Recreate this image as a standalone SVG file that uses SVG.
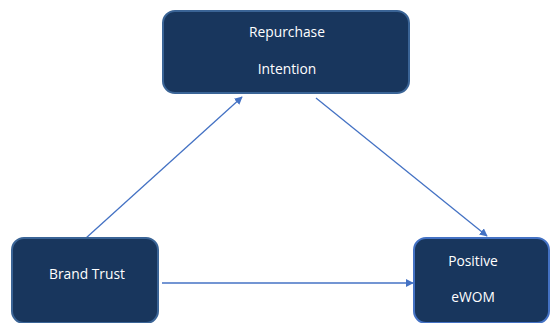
<svg xmlns="http://www.w3.org/2000/svg" width="551" height="323" viewBox="0 0 551 323">
<defs>
<style>
.box{fill:#18365d;stroke:#3a6496;stroke-width:2}
.lbl{fill:#ffffff;font-family:"Open Sans","Liberation Sans",sans-serif;font-size:13.8px;text-anchor:middle}
.con{stroke:#4472c4;stroke-width:1.3;fill:none;marker-end:url(#ah)}
</style>
<marker id="ah" viewBox="0 0 10 10" refX="9" refY="5" markerWidth="8" markerHeight="8" markerUnits="userSpaceOnUse" orient="auto">
<path d="M0,0 L10,5 L0,10 z" fill="#4472c4"/>
</marker>
</defs>
<rect width="551" height="323" fill="#ffffff"/>
<g id="connectors">
<line class="con" x1="86" y1="238" x2="242" y2="97"/>
<line class="con" x1="316" y1="98" x2="487" y2="236"/>
<line class="con" x1="162" y1="283" x2="413" y2="283"/>
</g>
<g id="repurchase">
<rect class="box" x="163" y="11" width="246" height="82" rx="12"/>
<text class="lbl" x="287" y="37">Repurchase</text>
<text class="lbl" x="287" y="74">Intention</text>
</g>
<g id="brandtrust">
<rect class="box" x="12" y="238" width="146" height="85" rx="12"/>
<text class="lbl" x="87" y="279">Brand Trust</text>
</g>
<g id="ewom">
<rect class="box" x="414" y="238" width="135" height="85" rx="12" style="stroke:#4472c4"/>
<text class="lbl" x="473" y="266">Positive</text>
<text class="lbl" x="473" y="302">eWOM</text>
</g>
</svg>
